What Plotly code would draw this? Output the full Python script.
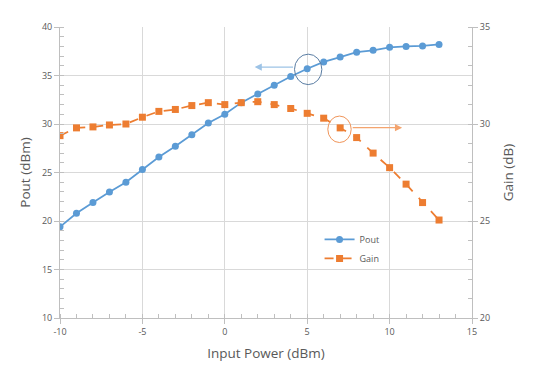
import plotly.graph_objects as go

input_power = [-10, -9, -8, -7, -6, -5, -4, -3, -2, -1, 0, 1, 2, 3, 4, 5, 6, 7, 8, 9, 10, 11, 12, 13]
pout = [19.4, 20.8, 21.9, 23.0, 24.0, 25.3, 26.6, 27.7, 28.9, 30.1, 31.0, 32.2, 33.1,
        34.0, 34.9, 35.7, 36.4, 36.9, 37.4, 37.6, 37.9, 38.0, 38.05, 38.2]
gain = [29.4, 29.8, 29.85, 29.95, 30.0, 30.35, 30.65, 30.75, 30.95, 31.1, 31.0, 31.1, 31.15,
        31.0, 30.8, 30.55, 30.3, 29.8, 29.3, 28.5, 27.75, 26.9, 25.95, 25.05]

BLUE = "#5b9bd5"
ORANGE = "#ed7d31"
GRID = "#d9d9d9"
AXIS = "#bfbfbf"
TXT = "#595959"
FONT = "Open Sans"

fig = go.Figure()
fig.add_trace(go.Scatter(
    x=input_power, y=pout, name="Pout", mode="lines+markers",
    line=dict(color=BLUE, width=1.75),
    marker=dict(symbol="circle", size=7, color=BLUE),
))
fig.add_trace(go.Scatter(
    x=input_power, y=gain, name="Gain", mode="lines+markers", yaxis="y2",
    line=dict(color=ORANGE, width=1.75, dash="dash"),
    marker=dict(symbol="square", size=7, color=ORANGE),
))

tickfont = dict(family=FONT, size=9, color=TXT)
titlefont = dict(family=FONT, size=13.5, color=TXT)

fig.update_layout(
    width=542, height=373,
    margin=dict(l=52, r=78, t=17, b=63),
    paper_bgcolor="white", plot_bgcolor="white",
    font=dict(family=FONT, color=TXT),
    showlegend=True,
    legend=dict(x=0.63, y=0.32, xanchor="left", yanchor="top",
                bgcolor="rgba(0,0,0,0)", font=dict(family=FONT, size=9, color=TXT),
                tracegroupgap=4, itemwidth=30),
    xaxis=dict(
        range=[-10, 15], tickmode="array",
        tickvals=[-10, -5, 0, 5, 10, 15], ticktext=["-10", "-5", "0", "5", "10", "15"],
        showgrid=True, gridcolor=GRID, gridwidth=1,
        showline=True, linecolor=AXIS, linewidth=1,
        ticks="outside", ticklen=5, tickcolor=AXIS,
        minor=dict(tickmode="linear", tick0=-10, dtick=1, ticks="inside", ticklen=4,
                   tickcolor=AXIS, showgrid=False),
        tickfont=tickfont, zeroline=False,
        title=dict(text="Input Power (dBm)", font=titlefont, standoff=11),
    ),
    yaxis=dict(
        range=[10, 40], dtick=5, tick0=10,
        showgrid=True, gridcolor=GRID, gridwidth=1,
        showline=True, linecolor=AXIS, linewidth=1,
        ticks="outside", ticklen=5, tickcolor=AXIS,
        minor=dict(dtick=1, ticks="inside", ticklen=4, tickcolor=AXIS, showgrid=False),
        tickfont=tickfont, zeroline=False,
        title=dict(text="Pout (dBm)", font=titlefont, standoff=8),
    ),
    yaxis2=dict(
        range=[20, 35], dtick=5, tick0=20, overlaying="y", side="right",
        showgrid=False,
        showline=True, linecolor=AXIS, linewidth=1,
        ticks="outside", ticklen=5, tickcolor=AXIS,
        minor=dict(dtick=1, ticks="inside", ticklen=4, tickcolor=AXIS),
        tickfont=tickfont, zeroline=False,
        title=dict(text="Gain (dB)", font=titlefont, standoff=14),
    ),
)

# circles
fig.add_shape(type="circle", xref="x", yref="y", x0=4.23, x1=5.89, y0=34.06, y1=37.2,
              line=dict(color="#5a7da3", width=1))
fig.add_shape(type="circle", xref="x", yref="y", x0=6.25, x1=7.67, y0=28.09, y1=30.82,
              line=dict(color="#f0955a", width=1))

# arrows
fig.add_annotation(x=1.81, y=35.87, ax=4.23, ay=35.87, xref="x", yref="y",
                   axref="x", ayref="y", text="", showarrow=True,
                   arrowhead=2, arrowsize=1.2, arrowwidth=1.2, arrowcolor="#9dc3e6")
fig.add_annotation(x=10.76, y=29.62, ax=7.67, ay=29.62, xref="x", yref="y",
                   axref="x", ayref="y", text="", showarrow=True,
                   arrowhead=2, arrowsize=1.2, arrowwidth=1.2, arrowcolor="#f4a46e")

fig.write_html("out.html")
